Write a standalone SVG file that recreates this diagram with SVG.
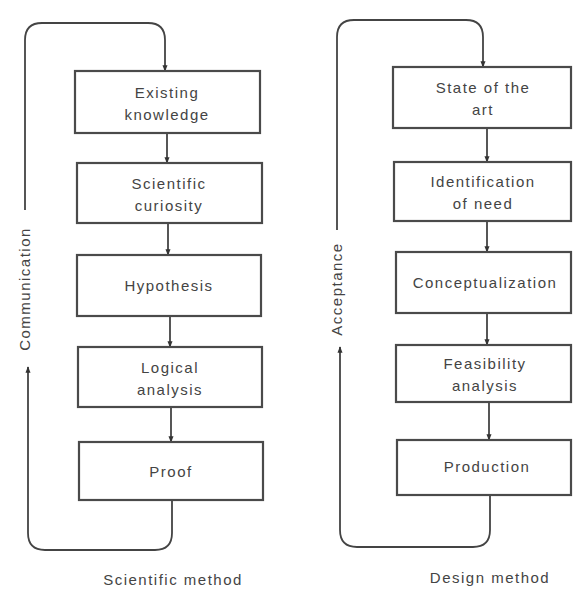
<svg xmlns="http://www.w3.org/2000/svg" width="575" height="590" viewBox="0 0 575 590">
<defs>
<marker id="ah" viewBox="0 0 10 10" refX="9" refY="5" markerWidth="3.5" markerHeight="3.5" orient="auto">
<path d="M0,1 L10,5 L0,9 z" fill="#333"/>
</marker>
<style>
.box{fill:#fff;stroke:#4a4a4a;stroke-width:2.2}
.t{font-family:"Liberation Sans",Arial,sans-serif;font-size:15px;letter-spacing:1.5px;fill:#444;text-anchor:middle}
.c{fill:none;stroke:#444;stroke-width:1.8}
</style>
</defs>
<rect width="575" height="590" fill="#fff"/>
<g id="connectors">
<path class="c" d="M167,133 L167,163" marker-end="url(#ah)"/>
<path class="c" d="M168,223 L168,255" marker-end="url(#ah)"/>
<path class="c" d="M170,316 L170,347" marker-end="url(#ah)"/>
<path class="c" d="M171,407 L171,442" marker-end="url(#ah)"/>
<path class="c" d="M25,210 L25,40 Q25,23 42,23 L148,23 Q165,23 165,40 L165,71" marker-end="url(#ah)"/>
<path class="c" d="M172,500 L172,533 Q172,550 155,550 L45,550 Q28,550 28,533 L28,367" marker-end="url(#ah)"/>
<path class="c" d="M487,128 L487,162" marker-end="url(#ah)"/>
<path class="c" d="M487,221 L487,252" marker-end="url(#ah)"/>
<path class="c" d="M487,313 L487,345" marker-end="url(#ah)"/>
<path class="c" d="M489,402 L489,440" marker-end="url(#ah)"/>
<path class="c" d="M337,230 L337,37 Q337,20 354,20 L466,20 Q483,20 483,37 L483,67" marker-end="url(#ah)"/>
<path class="c" d="M490,495 L490,530 Q490,547 473,547 L357,547 Q340,547 340,530 L340,347" marker-end="url(#ah)"/>
</g>
<g id="existing"><rect class="box" x="75" y="71" width="185" height="62"/><text class="t" x="167" y="98">Existing</text><text class="t" x="167" y="120">knowledge</text></g>
<g id="curiosity"><rect class="box" x="77" y="163" width="185" height="60"/><text class="t" x="169" y="189">Scientific</text><text class="t" x="169" y="211">curiosity</text></g>
<g id="hypothesis"><rect class="box" x="77" y="255" width="184" height="61"/><text class="t" x="169" y="291">Hypothesis</text></g>
<g id="logical"><rect class="box" x="78" y="347" width="184" height="60"/><text class="t" x="170" y="373">Logical</text><text class="t" x="170" y="395">analysis</text></g>
<g id="proof"><rect class="box" x="79" y="442" width="184" height="58"/><text class="t" x="171" y="477">Proof</text></g>
<g id="communication"><text class="t" transform="translate(30,289) rotate(-90)">Communication</text></g>
<g id="sci-caption"><text class="t" x="173" y="585">Scientific method</text></g>
<g id="state"><rect class="box" x="393" y="67" width="178" height="61"/><text class="t" x="483" y="93">State of the</text><text class="t" x="483" y="115">art</text></g>
<g id="need"><rect class="box" x="394" y="162" width="177" height="59"/><text class="t" x="483" y="187">Identification</text><text class="t" x="483" y="209">of need</text></g>
<g id="concept"><rect class="box" x="396" y="252" width="175" height="61"/><text class="t" x="485" y="288">Conceptualization</text></g>
<g id="feasibility"><rect class="box" x="396" y="345" width="175" height="57"/><text class="t" x="485" y="369">Feasibility</text><text class="t" x="485" y="391">analysis</text></g>
<g id="production"><rect class="box" x="397" y="440" width="174" height="55"/><text class="t" x="487" y="472">Production</text></g>
<g id="acceptance"><text class="t" transform="translate(342,289) rotate(-90)">Acceptance</text></g>
<g id="design-caption"><text class="t" x="490" y="583">Design method</text></g>
</svg>
